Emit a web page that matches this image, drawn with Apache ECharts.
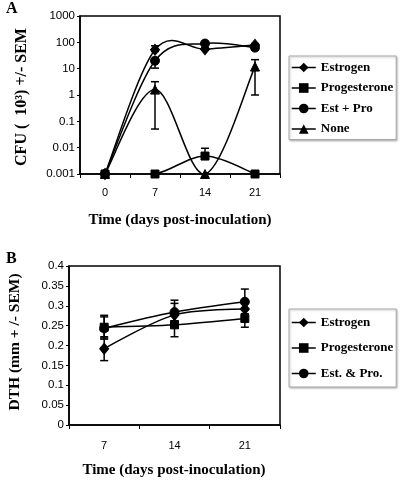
<!DOCTYPE html>
<html>
<head>
<meta charset="utf-8">
<script src="https://cdn.jsdelivr.net/npm/echarts@6/dist/echarts.min.js"></script>
<style>html,body{margin:0;padding:0;background:#fff;}#c{width:400px;height:484px;}</style>
</head>
<body>
<div id="c"></div>
<script>
// ---- Panel A data ----
var daysA = ['0', '7', '14', '21'];
var cfuTicks = [0.001, 0.01, 0.1, 1, 10, 100, 1000];
var estrogenA = [0.001, 52, 55, 80];
var progesteroneA = [0.001, 0.001, 0.0048, 0.001];
var estProA = [0.001, 20, 90, 63];
var noneA = [0.001, 1.6, 0.001, 12];
// error bars [categoryIndex, low, high]
var estrogenAErr = [[1, 45, 74], [2, 50, 62], [3, 72, 90]];
var estProAErr = [[1, 10.5, 24], [2, 80, 100], [3, 50, 85]];
var progesteroneAErr = [[2, 0.0048, 0.0095]];
var noneAErr = [[1, 0.051, 3.2], [3, 1.0, 22]];

// ---- Panel B data ----
var daysB = ['7', '14', '21'];
var estrogenB = [0.192, 0.277, 0.292];
var progesteroneB = [0.246, 0.252, 0.268];
var estProB = [0.243, 0.284, 0.31];
var estrogenBErr = [[0, 0.162, 0.219], [1, 0.262, 0.306], [2, 0.278, 0.31]];
var progesteroneBErr = [[0, 0.222, 0.272], [1, 0.222, 0.28], [2, 0.246, 0.29]];
var estProBErr = [[0, 0.216, 0.276], [1, 0.262, 0.314], [2, 0.28, 0.342]];

var serif = 'Liberation Serif';
var sans = 'Liberation Sans';

function errSeries(data, xi, yi) {
  return {
    type: 'custom', xAxisIndex: xi, yAxisIndex: yi, data: data, z: 3, silent: true,
    renderItem: function (params, api) {
      var x = api.value(0);
      var p1 = api.coord([x, api.value(1)]);
      var p2 = api.coord([x, api.value(2)]);
      var w = 4;
      var st = { stroke: '#000', lineWidth: 1.5 };
      return { type: 'group', children: [
        { type: 'line', shape: { x1: p1[0], y1: p1[1], x2: p2[0], y2: p2[1] }, style: st },
        { type: 'line', shape: { x1: p1[0] - w, y1: p1[1], x2: p1[0] + w, y2: p1[1] }, style: st },
        { type: 'line', shape: { x1: p2[0] - w, y1: p2[1], x2: p2[0] + w, y2: p2[1] }, style: st }
      ]};
    }
  };
}
// Smoothed (Catmull-Rom style, like spreadsheet smoothing) curve through the series points
function curveSeries(vals, xi, yi) {
  return {
    type: 'custom', xAxisIndex: xi, yAxisIndex: yi, clip: true, silent: true, z: 2,
    data: vals.map(function (v, k) { return [k, v]; }),
    renderItem: function (params, api) {
      var i = params.dataIndex, n = vals.length;
      if (i >= n - 1) return { type: 'group', children: [] };
      function pt(k) { k = Math.max(0, Math.min(n - 1, k)); return api.coord([k, vals[k]]); }
      var p0 = pt(i - 1), p1 = pt(i), p2 = pt(i + 1), p3 = pt(i + 2);
      return {
        type: 'bezierCurve',
        shape: {
          x1: p1[0], y1: p1[1], x2: p2[0], y2: p2[1],
          cpx1: p1[0] + (p2[0] - p0[0]) / 6, cpy1: p1[1] + (p2[1] - p0[1]) / 6,
          cpx2: p2[0] - (p3[0] - p1[0]) / 6, cpy2: p2[1] - (p3[1] - p1[1]) / 6
        },
        style: { stroke: '#000', lineWidth: 1.5, fill: null }
      };
    }
  };
}
function lineSeries(name, data, symbol, size, xi, yi, smooth, showLine) {
  return {
    name: name, type: 'line', xAxisIndex: xi, yAxisIndex: yi, data: data,
    smooth: smooth, symbol: symbol, symbolSize: size, z: 4,
    lineStyle: { color: '#000', width: 1.5, opacity: showLine ? 1 : 0 },
    itemStyle: { color: '#000', borderColor: '#000' }
  };
}

var chart = echarts.init(document.getElementById('c'), null, { renderer: 'canvas' });
var axisLineStyle = { lineStyle: { color: '#000', width: 1.5 } };
var legendCommon = {
  orient: 'vertical', left: 289, itemWidth: 24, itemHeight: 12,
  borderColor: '#aaa', borderWidth: 1, backgroundColor: '#fff',
  shadowColor: 'rgba(0,0,0,0.25)', shadowBlur: 2, shadowOffsetX: 1, shadowOffsetY: 1,
  lineStyle: { color: '#000', width: 1.5, opacity: 1, type: 'solid' },
  textStyle: { fontFamily: serif, fontSize: 13, fontWeight: 'bold', color: '#000', lineHeight: 12 }, selectedMode: false
};
var option = {
  animation: false,
  backgroundColor: '#fff',
  grid: [
    { left: 80, top: 16, width: 200, height: 158, show: true, borderColor: '#000', borderWidth: 1.5, backgroundColor: 'transparent' },
    { left: 69, top: 266, width: 211, height: 159, show: true, borderColor: '#000', borderWidth: 1.5, backgroundColor: 'transparent' }
  ],
  xAxis: [
    { type: 'category', gridIndex: 0, data: daysA, boundaryGap: true,
      axisLine: axisLineStyle, axisTick: { show: true, length: 4, lineStyle: { color: '#000' } },
      axisLabel: { color: '#000', fontFamily: sans, fontSize: 11, margin: 13 } },
    { type: 'category', gridIndex: 1, data: daysB, boundaryGap: true,
      axisLine: axisLineStyle, axisTick: { show: true, length: 4, lineStyle: { color: '#000' } },
      axisLabel: { color: '#000', fontFamily: sans, fontSize: 11, margin: 15 } }
  ],
  yAxis: [
    { type: 'log', gridIndex: 0, logBase: 10, min: cfuTicks[0], max: cfuTicks[cfuTicks.length - 1],
      axisLine: { show: true, lineStyle: { color: '#000', width: 1.5 } },
      axisTick: { show: true, length: 3, lineStyle: { color: '#000' } },
      splitLine: { show: false },
      axisLabel: { color: '#000', fontFamily: sans, fontSize: 11.5, margin: 5,
        formatter: function (v) {
          for (var i = 0; i < cfuTicks.length; i++) { if (Math.abs(Math.log10(v) - Math.log10(cfuTicks[i])) < 1e-6) return String(cfuTicks[i]); }
          return '';
        } } },
    { type: 'value', gridIndex: 1, min: 0, max: 0.4, interval: 0.05,
      axisLine: { show: true, lineStyle: { color: '#000', width: 1.5 } },
      axisTick: { show: true, length: 3, lineStyle: { color: '#000' } },
      splitLine: { show: false },
      axisLabel: { color: '#000', fontFamily: sans, fontSize: 11.5, margin: 5,
        formatter: function (v) { return String(Math.round(v * 100) / 100); } } }
  ],
  legend: [
    Object.assign({}, legendCommon, { top: 56, data: ['Estrogen', 'Progesterone', 'Est + Pro', 'None'], itemGap: 7.5, padding: [5, 3, 4, 2] }),
    Object.assign({}, legendCommon, { top: 309, data: ['Estrogen', 'Progesterone', 'Est. & Pro.'], itemGap: 12.5, padding: [7, 3, 7, 2] })
  ],
  graphic: [
    { type: 'text', left: 6, top: 1, style: { text: 'A', font: 'bold 16px "Liberation Serif"', fill: '#000' } },
    { type: 'text', left: 6, top: 251, style: { text: 'B', font: 'bold 16px "Liberation Serif"', fill: '#000' } },
    { type: 'text', x: 22, y: 97, rotation: Math.PI / 2, style: { text: 'CFU (  10³) +/- SEM', font: 'bold 16px "Liberation Serif"', fill: '#000', align: 'center', verticalAlign: 'middle' } },
    { type: 'text', x: 15, y: 342, rotation: Math.PI / 2, style: { text: 'DTH (mm + /- SEM)', font: 'bold 15.5px "Liberation Serif"', fill: '#000', align: 'center', verticalAlign: 'middle' } },
    { type: 'text', x: 180, y: 220, style: { text: 'Time (days post-inoculation)', font: 'bold 15px "Liberation Serif"', fill: '#000', align: 'center', verticalAlign: 'middle' } },
    { type: 'text', x: 174, y: 470, style: { text: 'Time (days post-inoculation)', font: 'bold 15px "Liberation Serif"', fill: '#000', align: 'center', verticalAlign: 'middle' } }
  ],
  series: [
    errSeries(estrogenAErr, 0, 0),
    errSeries(estProAErr, 0, 0),
    errSeries(progesteroneAErr, 0, 0),
    errSeries(noneAErr, 0, 0),
    curveSeries(estrogenA, 0, 0),
    curveSeries(progesteroneA, 0, 0),
    curveSeries(estProA, 0, 0),
    curveSeries(noneA, 0, 0),
    lineSeries('Estrogen', estrogenA, 'diamond', [9, 11], 0, 0, false, false),
    lineSeries('Progesterone', progesteroneA, 'rect', 8, 0, 0, false, false),
    lineSeries('Est + Pro', estProA, 'circle', 9, 0, 0, false, false),
    lineSeries('None', noneA, 'triangle', 9, 0, 0, false, false),
    errSeries(estrogenBErr, 1, 1),
    errSeries(progesteroneBErr, 1, 1),
    errSeries(estProBErr, 1, 1),
    lineSeries('Estrogen', estrogenB, 'diamond', [9, 11], 1, 1, 0.3, true),
    lineSeries('Progesterone', progesteroneB, 'rect', 8, 1, 1, 0.3, true),
    lineSeries('Est. & Pro.', estProB, 'circle', 9, 1, 1, 0.3, true)
  ]
};
chart.setOption(option);
</script>
</body>
</html>
